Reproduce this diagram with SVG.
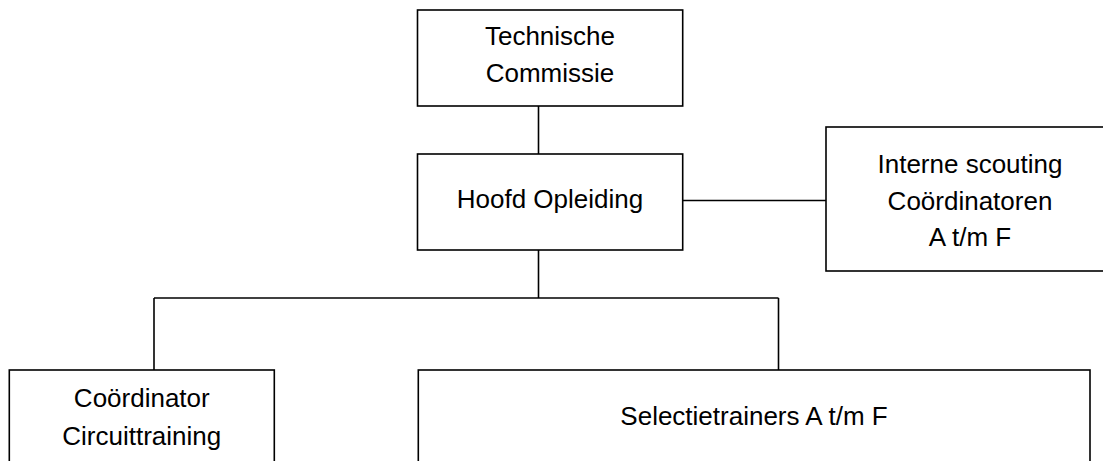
<svg xmlns="http://www.w3.org/2000/svg" width="1103" height="461" viewBox="0 0 1103 461">
<style>
.box{fill:#fff;stroke:#000;stroke-width:1.6}
.conn{fill:none;stroke:#000;stroke-width:1.6}
text{font-family:"Liberation Sans",Arial,sans-serif;font-size:26px;fill:#000;text-anchor:middle}
</style>
<rect width="1103" height="461" fill="#fff"/>
<g id="connectors">
<path class="conn" d="M538.5 106V154"/>
<path class="conn" d="M682.7 200.5H826"/>
<path class="conn" d="M538.5 250V298"/>
<path class="conn" d="M154 298H778.5"/>
<path class="conn" d="M154 298V370"/>
<path class="conn" d="M778.5 298V370"/>
</g>
<g id="technische-commissie">
<rect class="box" x="417.5" y="10" width="265.2" height="96"/>
<text x="550" y="45">Technische</text>
<text x="550" y="82">Commissie</text>
</g>
<g id="hoofd-opleiding">
<rect class="box" x="417.5" y="154" width="265.2" height="96"/>
<text x="550" y="208">Hoofd Opleiding</text>
</g>
<g id="interne-scouting">
<rect class="box" x="826" y="127" width="290" height="144"/>
<text x="970" y="173">Interne scouting</text>
<text x="970" y="210">Coördinatoren</text>
<text x="970" y="246">A t/m F</text>
</g>
<g id="coordinator-circuittraining">
<rect class="box" x="9.3" y="370" width="265" height="110"/>
<text x="141.8" y="407">Coördinator</text>
<text x="141.8" y="445">Circuittraining</text>
</g>
<g id="selectietrainers">
<rect class="box" x="418.3" y="370" width="671.7" height="110"/>
<text x="754" y="425">Selectietrainers A t/m F</text>
</g>
</svg>
